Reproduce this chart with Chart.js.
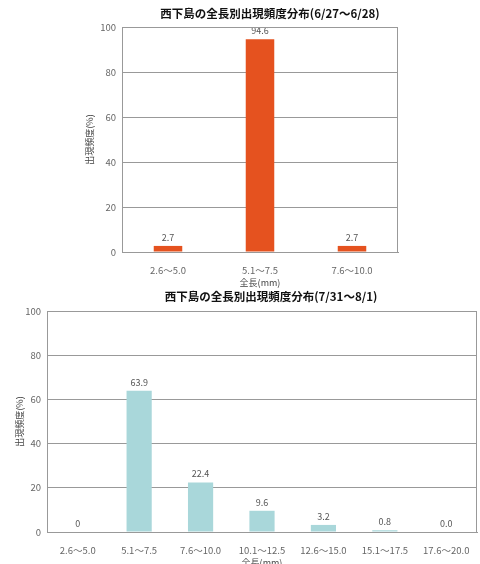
<!DOCTYPE html>
<html>
<head>
<meta charset="utf-8">
<script src="https://cdn.jsdelivr.net/npm/chart.js@4/dist/chart.umd.min.js"></script>
<style>
	html, body { margin: 0; padding: 0; background: #fff; overflow: hidden; }
	#wrap { position: relative; width: 480px; height: 564px; overflow: hidden; }
	.box { position: absolute; left: 0; width: 480px; }
</style>
</head>
<body>
<div id="wrap">
	<div class="box" style="top:0;height:290px"><canvas id="topChart"></canvas></div>
	<div class="box" style="top:285px;height:285px"><canvas id="bottomChart"></canvas></div>
</div>
<script>
const topTitle = "西下島の全長別出現頻度分布(6/27～6/28)";
const bottomTitle = "西下島の全長別出現頻度分布(7/31～8/1)";
const topLabels = ["2.6～5.0", "5.1～7.5", "7.6～10.0"];
const topValues = [2.7, 94.6, 2.7];
const bottomLabels = ["2.6～5.0", "5.1～7.5", "7.6～10.0", "10.1～12.5", "12.6～15.0", "15.1～17.5", "17.6～20.0"];
const bottomValues = [0, 63.9, 22.4, 9.6, 3.2, 0.8, 0.0];
const yTitle = "出現頻度(%)";
const xTitle = "全長(mm)";

const font = "'Noto Sans CJK JP', 'Noto Sans', sans-serif";
Chart.defaults.font.family = font;
Chart.defaults.animation = false;

// value labels above each bar
const valueLabels = {
	id: "valueLabels",
	afterDatasetsDraw(chart) {
		const ctx = chart.ctx;
		const meta = chart.getDatasetMeta(0);
		const values = chart.data.datasets[0].data;
		ctx.save();
		ctx.font = "9px " + font;
		ctx.fillStyle = "#555";
		ctx.textAlign = "center";
		ctx.textBaseline = "bottom";
		meta.data.forEach((bar, i) => {
			const v = values[i];
			const text = v === 0 && i === 0 ? "0" : v.toFixed(1);
			ctx.fillText(text, bar.x, bar.y - 4);
		});
		ctx.restore();
	}
};

// plot frame + title centred over the plot
const frame = {
	id: "frame",
	afterDatasetsDraw(chart, args, o) {
		const {ctx, chartArea: a} = chart;
		ctx.save();
		ctx.strokeStyle = "#999";
		ctx.lineWidth = 1;
		ctx.strokeRect(a.left + 0.5, a.top + 0.5, a.right - a.left - 1, a.bottom - a.top);
		ctx.font = "bold 11.5px " + font;
		ctx.fillStyle = "#111";
		ctx.textAlign = "center";
		ctx.textBaseline = "middle";
		ctx.fillText(o.text, (a.left + a.right) / 2 + o.shift, o.y);
		ctx.restore();
	}
};

const createBarChart = (element, title, labels, values, color, opts) => {
	return new Chart(element, {
		type: "bar",
		data: {
			labels,
			datasets: [{
				data: values,
				backgroundColor: color,
				borderWidth: 0,
				categoryPercentage: 1,
				barPercentage: opts.barPct
			}]
		},
		options: {
			responsive: true,
			maintainAspectRatio: false,
			layout: {padding: opts.padding},
			plugins: {
				legend: {display: false},
				tooltip: {enabled: false},
				title: {display: false},
				frame: {text: title, y: opts.titleY, shift: opts.titleShift}
			},
			scales: {
				x: {
					grid: {display: false},
					border: {color: "#999"},
					ticks: {color: "#666", font: {size: 9.5}, maxRotation: 0, autoSkip: false, padding: 5},
					title: {display: true, text: xTitle, color: "#444", font: {size: 9}, padding: {top: 2, bottom: 2}},
					afterFit: (s) => { s.height = opts.xHeight; }
				},
				y: {
					min: 0,
					max: 100,
					ticks: {stepSize: 20, color: "#666", font: {size: 9.5}, padding: 6},
					grid: {color: "#999", drawTicks: false},
					border: {color: "#999"},
					title: {display: true, text: yTitle, color: "#444", font: {size: 9}, padding: 2},
					afterFit: (s) => { s.width = opts.yWidth; }
				}
			}
		},
		plugins: [valueLabels, frame]
	});
};

createBarChart(
	document.getElementById("topChart"),
	topTitle, topLabels, topValues, "#e5521f",
	{barPct: 0.31, padding: {top: 27, right: 82, left: 82, bottom: 0}, xHeight: 38, yWidth: 40, titleY: 14, titleShift: 10}
);

createBarChart(
	document.getElementById("bottomChart"),
	bottomTitle, bottomLabels, bottomValues, "#a9d7da",
	{barPct: 0.41, padding: {top: 26, right: 3, left: 12, bottom: 0}, xHeight: 38, yWidth: 35, titleY: 12, titleShift: 9}
);
</script>
</body>
</html>
